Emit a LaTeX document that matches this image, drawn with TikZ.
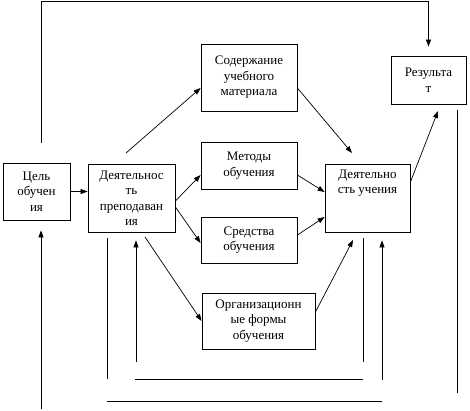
\documentclass[tikz,border=0pt]{standalone}
\usepackage{fontspec}
\setmainfont{Liberation Serif}
\usetikzlibrary{arrows.meta}
\tikzset{
  box/.style = {draw, rectangle, align = center, inner sep = 0pt, line width = 0.8pt},
  arr/.style = {-{Triangle[length = 7pt, width = 5pt]}, line width = 0.7pt},
  ln/.style  = {line width = 0.8pt}
}
\begin{document}
\begin{tikzpicture}[x = 1pt, y = -1pt, font = \fontsize{13}{15.5}\selectfont]
        \useasboundingbox (0, 0) rectangle (470, 410);
        % блоки
        \node[box, minimum width = 96pt, minimum height = 67pt] (content) at (249, 77.5) {Содержание\\учебного\\материала};
        \node[box, minimum width = 75pt, minimum height = 48pt] (result) at (428.5, 80) {Результа\\т};
        \node[box, minimum width = 67pt, minimum height = 57pt] (goal) at (36.5, 191.5) {Цель\\обучен\\ия};
        \node[box, minimum width = 87pt, minimum height = 68pt] (teach) at (131.5, 198) {Деятельнос\\ть\\преподаван\\ия};
        \node[box, minimum width = 96pt, minimum height = 47pt] (methods) at (249, 165.5) {Методы\\обучения};
        \node[box, minimum width = 96pt, minimum height = 46pt] (means) at (249, 240) {Средства\\обучения};
        \node[box, minimum width = 85pt, minimum height = 68pt] (learn) at (367.5, 198) {};
        \node[anchor = north, align = center, inner sep = 0pt] (learntext) at ([yshift = -6pt]learn.north) {Деятельно\\сть учения};
        \node[box, minimum width = 113pt, minimum height = 56pt] (forms) at (258.5, 321) {Организационн\\ые формы\\обучения};
        % свободные концы
        \coordinate (g1) at (41, 143);
        \coordinate (g2) at (41, 409);
        \coordinate (t1) at (126, 153);
        \coordinate (t2) at (145, 237);
        \coordinate (l1) at (352, 153);
        \coordinate (l2) at (353, 240);
        \coordinate (r2) at (438, 111);
        \coordinate (v1) at (457, 110);
        \coordinate (v2) at (457, 393);
        \coordinate (a1) at (107, 238);
        \coordinate (a2) at (107, 379);
        \coordinate (b1) at (136, 362);
        \coordinate (c1) at (363, 238);
        \coordinate (c2) at (363, 362);
        \coordinate (d1) at (382, 380);
        \coordinate (h1) at (135, 379);
        \coordinate (h2) at (363, 379);
        \coordinate (h3) at (107, 401);
        \coordinate (h4) at (382, 401);
        % обратная связь сверху
        \draw[arr, shorten > = 9pt] (g1) -- (g1 |- 0, 1) -| (result.north);
        \draw[arr, shorten > = 10pt] (g2) -- (g2 |- goal.south);
        \draw[arr] (goal.east) -- (goal.east -| teach.west);
        % от преподавания
        \draw[arr] (t1) -- ([yshift = -10.5pt]content.west);
        \draw[arr] ([yshift = -3pt]teach.east) -- ([yshift = -9.5pt]methods.west);
        \draw[arr] ([yshift = -9pt]teach.east) -- ([yshift = -3pt]means.west);
        \draw[arr] (t2) -- (forms.west);
        % к учению
        \draw[arr] ([yshift = -10.5pt]content.east) -- (l1);
        \draw[arr] ([yshift = -9.5pt]methods.east) -- ([yshift = 6pt]learn.west);
        \draw[arr] ([yshift = 5pt]means.east) -- ([yshift = -19pt]learn.west);
        \draw[arr] ([yshift = 9pt]forms.east) -- (l2);
        \draw[arr] ([yshift = 16pt]learn.east) -- (r2);
        % линии снизу
        \draw[ln] (v1) -- (v2);
        \draw[ln] (a1) -- (a2);
        \draw[arr, shorten > = 8pt] (b1) -- (b1 |- teach.south);
        \draw[ln] (c1) -- (c2);
        \draw[arr, shorten > = 8pt] (d1) -- (d1 |- learn.south);
        \draw[ln] (h1) -- (h2);
        \draw[ln] (h3) -- (h4);
      \end{tikzpicture}
\end{document}
